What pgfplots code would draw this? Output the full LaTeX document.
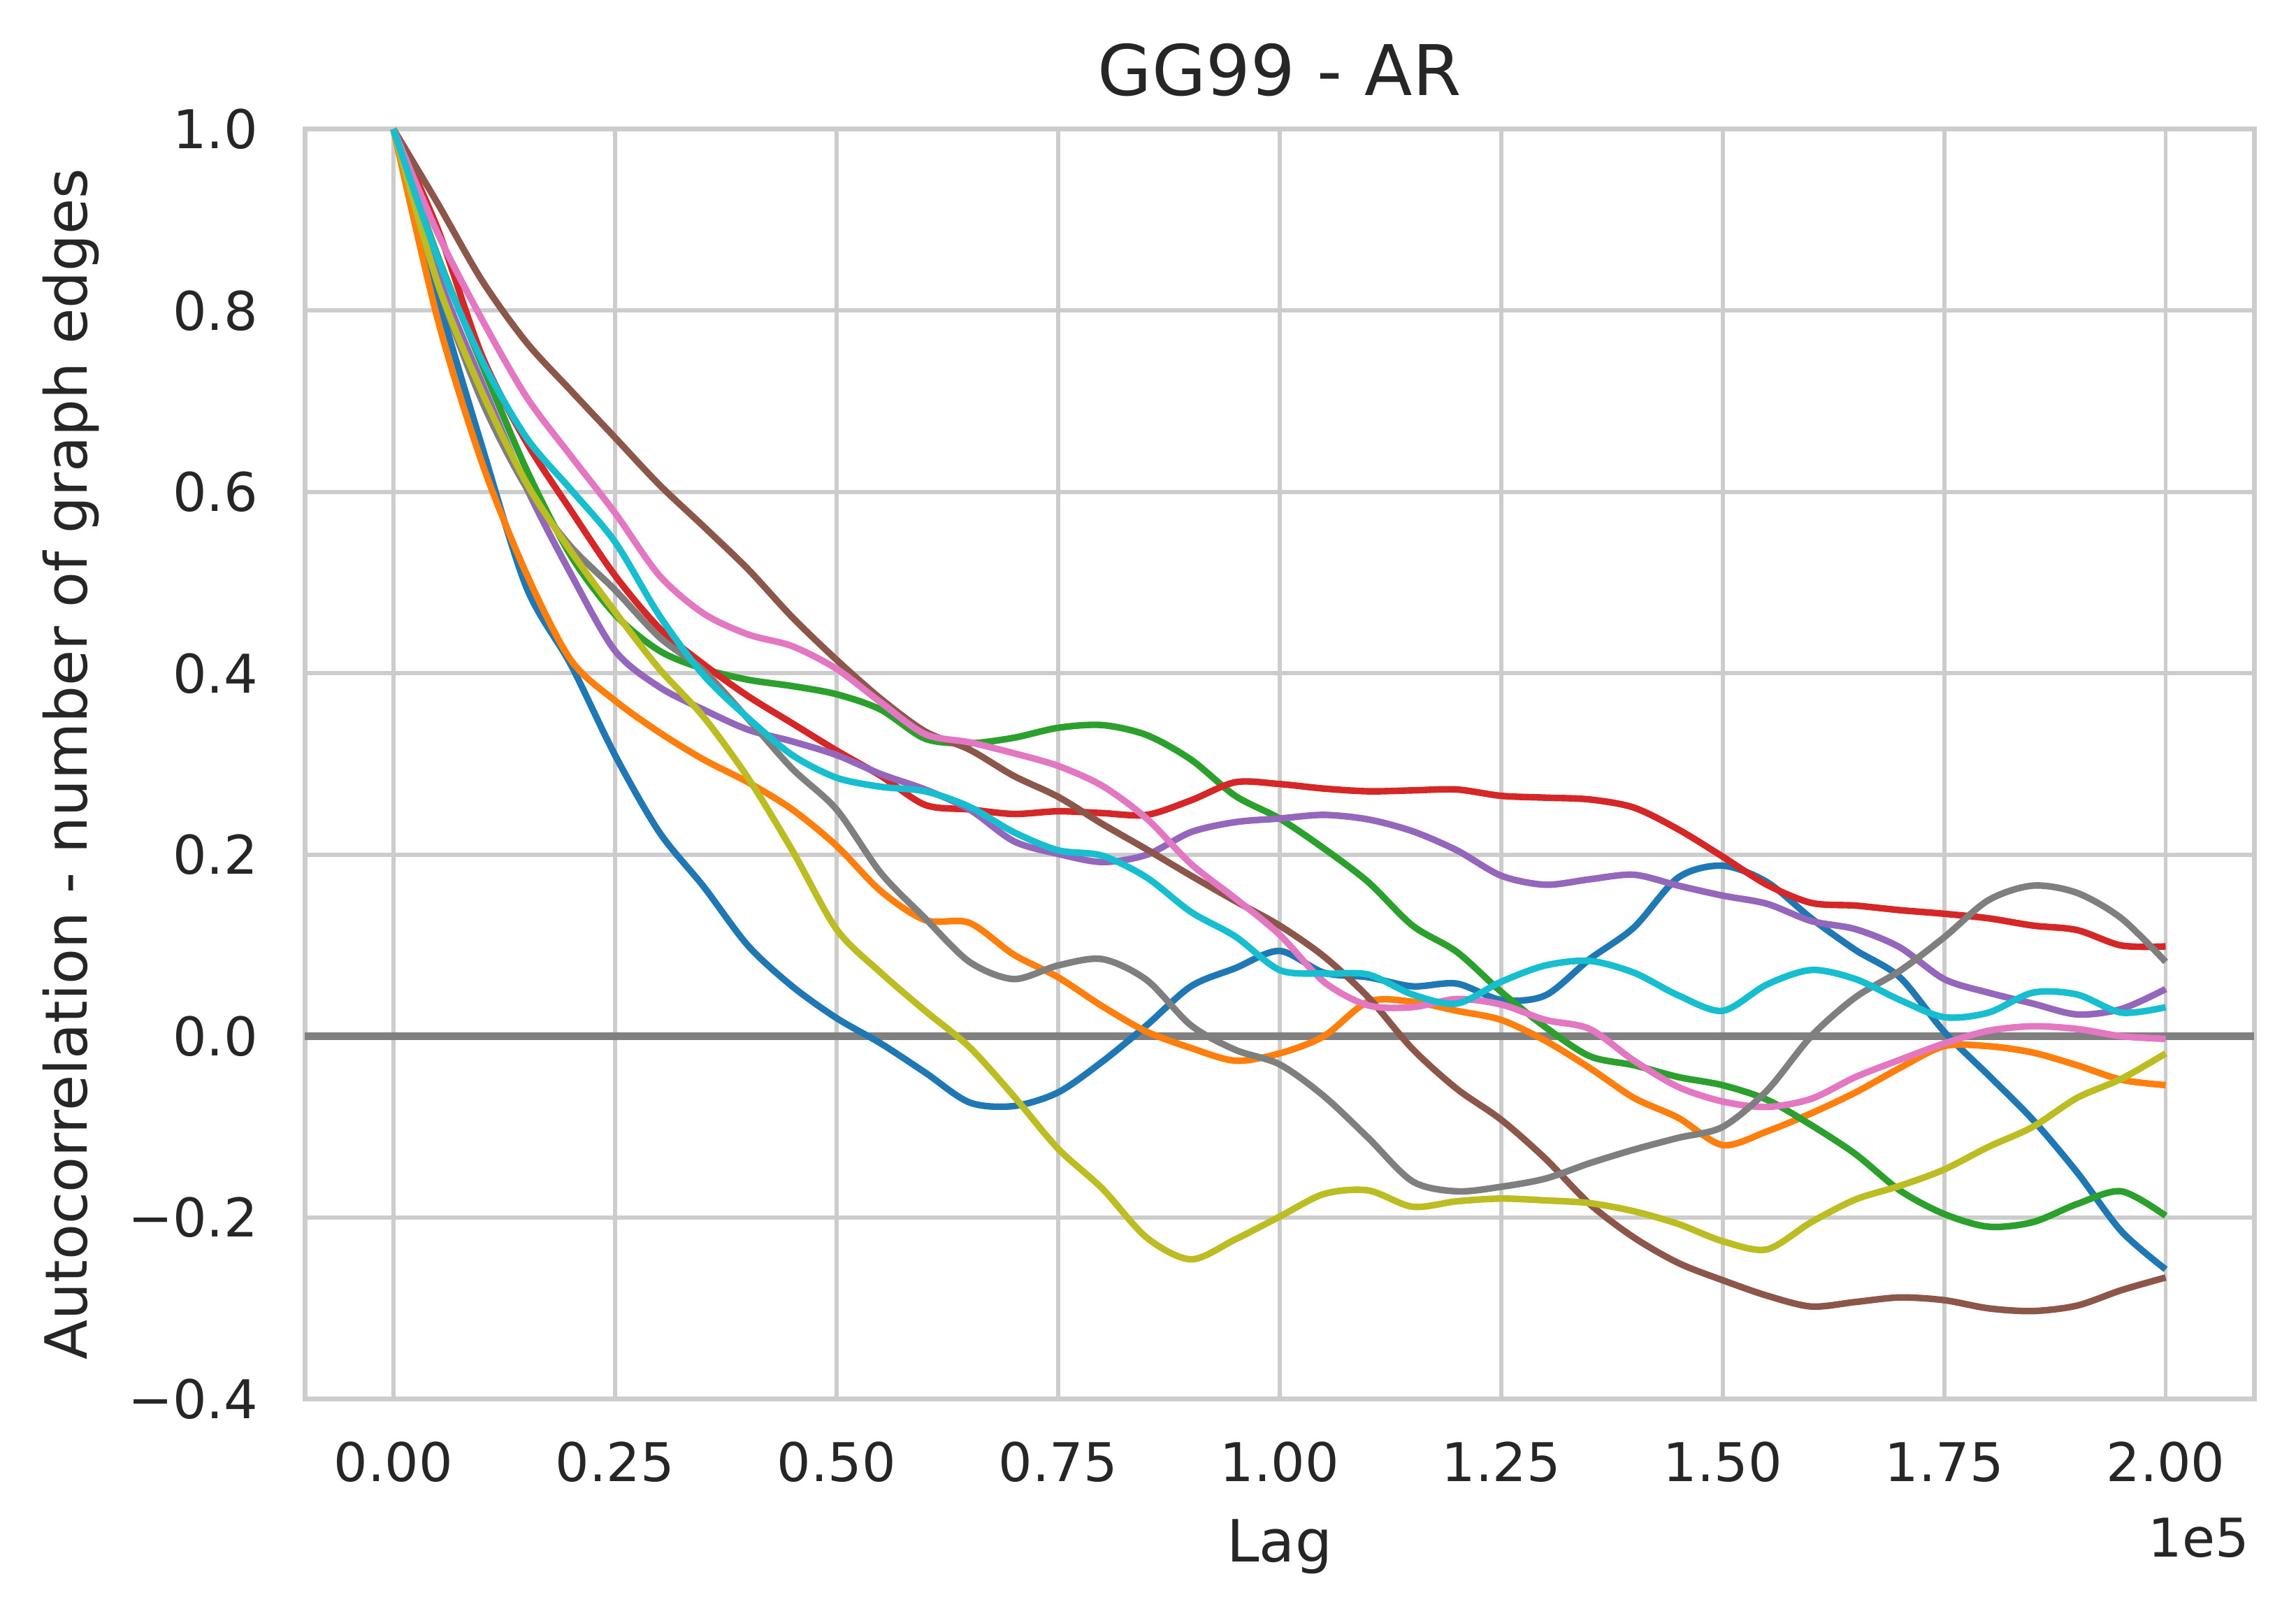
\documentclass[border=0pt]{standalone}
\usepackage{fontspec}
\setmainfont{DejaVu Sans}
\usepackage{pgfplots}
\usepackage{pgfplotstable}
\pgfplotsset{compat=1.18}

\definecolor{cA}{HTML}{1F77B4}
\definecolor{cB}{HTML}{FF7F0E}
\definecolor{cC}{HTML}{2CA02C}
\definecolor{cD}{HTML}{D62728}
\definecolor{cE}{HTML}{9467BD}
\definecolor{cF}{HTML}{8C564B}
\definecolor{cG}{HTML}{E377C2}
\definecolor{cH}{HTML}{7F7F7F}
\definecolor{cI}{HTML}{BCBD22}
\definecolor{cJ}{HTML}{17BECF}
\definecolor{gridc}{HTML}{CCCCCC}
\definecolor{txt}{HTML}{262626}
\definecolor{zeroc}{HTML}{808080}

\pgfplotstableread{
lag    s0     s1     s2     s3     s4     s5     s6     s7     s8     s9
0      1.000  1.000  1.000  1.000  1.000  1.000  1.000  1.000  1.000  1.000
5000   0.815  0.790  0.860  0.890  0.840  0.918  0.885  0.830  0.830  0.858
10000  0.650  0.632  0.740  0.750  0.720  0.833  0.790  0.700  0.710  0.745
15000  0.495  0.510  0.625  0.655  0.605  0.765  0.705  0.605  0.610  0.660
20000  0.410  0.415  0.530  0.580  0.510  0.712  0.640  0.540  0.535  0.603
25000  0.310  0.370  0.465  0.508  0.425  0.660  0.577  0.492  0.468  0.545
30000  0.225  0.335  0.425  0.450  0.385  0.608  0.508  0.440  0.405  0.464
35000  0.165  0.305  0.405  0.410  0.360  0.562  0.466  0.403  0.352  0.398
40000  0.100  0.280  0.393  0.375  0.338  0.515  0.443  0.350  0.285  0.351
45000  0.055  0.250  0.386  0.345  0.325  0.462  0.430  0.295  0.205  0.310
50000  0.020  0.210  0.377  0.315  0.310  0.415  0.405  0.250  0.118  0.285
55000  -0.008 0.160  0.360  0.287  0.289  0.372  0.368  0.180  0.070  0.275
60000  -0.040 0.128  0.328  0.255  0.272  0.336  0.333  0.130  0.028  0.270
65000  -0.073 0.125  0.323  0.250  0.250  0.316  0.324  0.082  -0.012 0.253
70000  -0.077 0.090  0.329  0.245  0.215  0.287  0.312  0.063  -0.066 0.225
75000  -0.062 0.065  0.340  0.248  0.201  0.264  0.298  0.078  -0.124 0.205
80000  -0.028 0.033  0.343  0.246  0.192  0.234  0.276  0.085  -0.168 0.199
85000  0.012  0.005  0.332  0.244  0.200  0.206  0.240  0.062  -0.222 0.175
90000  0.055  -0.013 0.305  0.260  0.225  0.177  0.190  0.012  -0.246 0.137
95000  0.075  -0.027 0.265  0.280  0.236  0.149  0.152  -0.015 -0.224 0.110
100000 0.094  -0.019 0.240  0.278  0.240  0.122  0.112  -0.031 -0.199 0.073
105000 0.070  0.000  0.207  0.273  0.244  0.088  0.060  -0.066 -0.174 0.069
110000 0.065  0.038  0.170  0.270  0.239  0.043  0.034  -0.112 -0.170 0.068
115000 0.055  0.038  0.122  0.271  0.226  -0.014 0.032  -0.160 -0.188 0.046
120000 0.058  0.028  0.093  0.272  0.205  -0.058 0.041  -0.171 -0.182 0.036
125000 0.040  0.018  0.049  0.265  0.177  -0.092 0.035  -0.166 -0.179 0.060
130000 0.045  -0.005 0.010  0.263  0.167  -0.135 0.018  -0.157 -0.181 0.078
135000 0.085  -0.035 -0.022 0.261  0.173  -0.185 0.008  -0.140 -0.184 0.083
140000 0.120  -0.068 -0.032 0.252  0.178  -0.222 -0.027 -0.125 -0.193 0.070
145000 0.175  -0.090 -0.045 0.228  0.166  -0.250 -0.056 -0.112 -0.207 0.045
150000 0.188  -0.120 -0.054 0.198  0.155  -0.269 -0.072 -0.100 -0.226 0.028
155000 0.170  -0.105 -0.070 0.167  0.146  -0.286 -0.078 -0.060 -0.235 0.057
160000 0.130  -0.085 -0.098 0.147  0.127  -0.298 -0.069 0.000  -0.205 0.073
165000 0.095  -0.062 -0.130 0.144  0.118  -0.293 -0.045 0.043  -0.180 0.063
170000 0.065  -0.035 -0.170 0.139  0.098  -0.288 -0.026 0.072  -0.165 0.040
175000 0.005  -0.011 -0.196 0.135  0.063  -0.291 -0.008 0.109  -0.147 0.021
180000 -0.043 -0.011 -0.210 0.130  0.048  -0.300 0.006  0.150  -0.122 0.026
185000 -0.092 -0.018 -0.205 0.122  0.036  -0.303 0.011  0.166  -0.100 0.048
190000 -0.150 -0.032 -0.185 0.117  0.024  -0.297 0.008  0.158  -0.068 0.046
195000 -0.215 -0.048 -0.171 0.100  0.030  -0.280 0.000  0.130  -0.047 0.026
200000 -0.257 -0.054 -0.198 0.099  0.052  -0.266 -0.003 0.082  -0.019 0.032
}\acdata

\begin{document}
\begin{tikzpicture}
\begin{axis}[
  scale only axis,
  width=401.6pt, height=261.6pt,
  xmin=-10000, xmax=210000, ymin=-0.4, ymax=1.0,
  clip=false,
  scaled x ticks=false, scaled y ticks=false,
  xtick={0,25000,50000,75000,100000,125000,150000,175000,200000},
  xticklabels={0.00,0.25,0.50,0.75,1.00,1.25,1.50,1.75,2.00},
  ytick={-0.4,-0.2,0,0.2,0.4,0.6,0.8,1.0},
  yticklabels={−0.4,−0.2,0.0,0.2,0.4,0.6,0.8,1.0},
  grid=major,
  major grid style={draw=gridc, line width=0.85pt},
  axis line style={draw=gridc, line width=1pt},
  major tick length=0pt,
  tick style={draw=none},
  xticklabel style={font=\fontsize{11}{13}\selectfont, text=txt, anchor=base, inner sep=0pt, yshift=-17pt},
  yticklabel style={font=\fontsize{11}{13}\selectfont, text=txt, anchor=east, inner sep=0pt, xshift=-9.5pt},
  every axis plot/.append style={line width=1.35pt, line join=round, smooth, tension=0.5},
]
\addplot[draw=zeroc, line width=1.7pt, forget plot, sharp plot] coordinates {(-10000,0) (210000,0)};
\addplot[cA] table[x=lag, y=s0] {\acdata};
\addplot[cB] table[x=lag, y=s1] {\acdata};
\addplot[cC] table[x=lag, y=s2] {\acdata};
\addplot[cD] table[x=lag, y=s3] {\acdata};
\addplot[cE] table[x=lag, y=s4] {\acdata};
\addplot[cF] table[x=lag, y=s5] {\acdata};
\addplot[cG] table[x=lag, y=s6] {\acdata};
\addplot[cH] table[x=lag, y=s7] {\acdata};
\addplot[cI] table[x=lag, y=s8] {\acdata};
\addplot[cJ] table[x=lag, y=s9] {\acdata};
\coordinate (ll) at (rel axis cs:0,0);
\coordinate (ur) at (rel axis cs:1,1);
\node[anchor=base, inner sep=0pt, text=txt, font=\fontsize{14.4}{17}\selectfont] at ([yshift=6.9pt]rel axis cs:0.5,1) {GG99 - AR};
\node[anchor=base, inner sep=0pt, text=txt, font=\fontsize{12}{14}\selectfont] at ([yshift=-33.5pt]rel axis cs:0.5,0) {Lag};
\node[anchor=base east, inner sep=0pt, text=txt, font=\fontsize{11}{13}\selectfont] at ([yshift=-32.5pt, xshift=-0.9pt]rel axis cs:1,0) {1e5};
\node[rotate=90, anchor=base, inner sep=0pt, text=txt, font=\fontsize{12}{14}\selectfont] at ([xshift=-44.9pt]rel axis cs:0,0.5) {Autocorrelation - number of graph edges};
\end{axis}
\pgfresetboundingbox
\path ([shift={(-62.8pt,-44.6pt)}]ll) rectangle ([shift={(8.6pt,26.6pt)}]ur);
\end{tikzpicture}
\end{document}
